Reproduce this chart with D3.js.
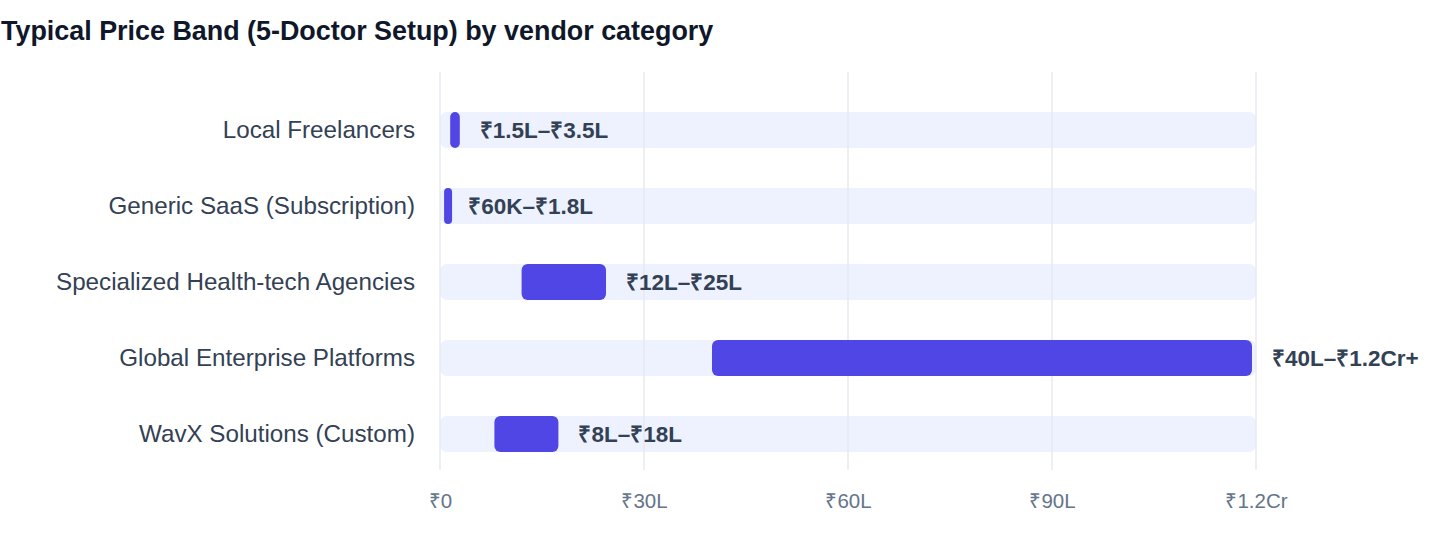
<!DOCTYPE html>
<html>
<head>
<meta charset="utf-8">
<script src="https://cdn.jsdelivr.net/npm/d3@7"></script>
<style>
  body { margin: 0; background: #fff; font-family: "Liberation Sans", Arial, Helvetica, sans-serif; }
</style>
</head>
<body>
<div id="wrapper"></div>
<script>
// vendor categories and their price bands, in lakh (₹L)
const categories = [
  'Local Freelancers',
  'Generic SaaS (Subscription)',
  'Specialized Health-tech Agencies',
  'Global Enterprise Platforms',
  'WavX Solutions (Custom)',
];
const lowValues = [1.5, 0.6, 12, 40, 8];
const highValues = [3.5, 1.8, 25, 120, 18];
const bandLabels = ['₹1.5L–₹3.5L', '₹60K–₹1.8L', '₹12L–₹25L', '₹40L–₹1.2Cr+', '₹8L–₹18L'];
const tickValues = [0, 30, 60, 90, 120];
const tickLabels = ['₹0', '₹30L', '₹60L', '₹90L', '₹1.2Cr'];
const axisMax = 120;

function drawRangeChart() {
  const dataset = categories.map((c, i) => ({
    category: c,
    low: lowValues[i],
    high: highValues[i],
    label: bandLabels[i],
  }));

  /* CHART DIMENSIONS */
  const dimensions = {
    width: 1440,
    height: 560,
    margin: { top: 72, right: 184, bottom: 90, left: 440 },
  };
  dimensions.boundedWidth = dimensions.width - dimensions.margin.left - dimensions.margin.right;
  dimensions.boundedHeight = dimensions.height - dimensions.margin.top - dimensions.margin.bottom;

  /* SCALES */
  const xScale = d3.scaleLinear()
    .domain([0, axisMax])
    .range([0, dimensions.boundedWidth]);

  const yScale = d3.scaleBand()
    .domain(categories)
    .range([20, 400])
    .paddingInner(0.526)
    .paddingOuter(0.263);

  const wrapper = d3.select('#wrapper')
    .append('svg')
    .attr('width', dimensions.width)
    .attr('height', dimensions.height);

  wrapper.append('text')
    .text('Typical Price Band (5-Doctor Setup) by vendor category')
    .attr('x', 1)
    .attr('y', 40)
    .attr('font-size', 26.9)
    .attr('font-weight', 700)
    .attr('fill', '#0f172a');

  const bounds = wrapper.append('g')
    .attr('transform', `translate(${dimensions.margin.left},${dimensions.margin.top})`);

  /* BACKGROUND TRACKS */
  bounds.append('g')
    .selectAll('rect')
    .data(dataset)
    .join('rect')
    .attr('x', 0)
    .attr('y', d => yScale(d.category))
    .attr('width', xScale(axisMax))
    .attr('height', yScale.bandwidth())
    .attr('rx', 7)
    .attr('fill', '#eef2ff');

  /* GRID */
  bounds.append('g')
    .selectAll('line')
    .data(tickValues)
    .join('line')
    .attr('x1', d => xScale(d))
    .attr('x2', d => xScale(d))
    .attr('y1', 0)
    .attr('y2', dimensions.boundedHeight)
    .attr('stroke', '#e2e8f0')
    .attr('stroke-width', 1.3);

  /* RANGE BARS */
  const barWidth = d => Math.max(8, xScale(d.high) - xScale(d.low) - 4);
  bounds.append('g')
    .selectAll('rect')
    .data(dataset)
    .join('rect')
    .attr('x', d => xScale(d.low))
    .attr('y', d => yScale(d.category))
    .attr('width', barWidth)
    .attr('height', yScale.bandwidth())
    .attr('rx', d => Math.min(6, barWidth(d) / 2))
    .attr('fill', '#4f46e5');

  bounds.append('g')
    .selectAll('text')
    .data(dataset)
    .join('text')
    .text(d => d.label)
    .attr('x', d => xScale(d.high) + 16)
    .attr('y', d => yScale(d.category) + yScale.bandwidth() / 2)
    .attr('dy', '0.35em')
    .attr('font-size', 22.5)
    .attr('font-weight', 700)
    .attr('fill', '#334155');

  /* CATEGORY LABELS */
  bounds.append('g')
    .selectAll('text')
    .data(dataset)
    .join('text')
    .text(d => d.category)
    .attr('x', -25)
    .attr('y', d => yScale(d.category) + yScale.bandwidth() / 2)
    .attr('dy', '0.35em')
    .attr('text-anchor', 'end')
    .attr('font-size', 24.2)
    .attr('fill', '#334155');

  /* X AXIS */
  const xAxis = d3.axisBottom(xScale)
    .tickValues(tickValues)
    .tickFormat((d, i) => tickLabels[i])
    .tickSize(0)
    .tickPadding(23);

  const xAxisGroup = bounds.append('g')
    .attr('transform', `translate(0,${dimensions.boundedHeight})`)
    .call(xAxis);
  xAxisGroup.select('.domain').remove();
  xAxisGroup.selectAll('text')
    .attr('font-size', 20.5)
    .attr('font-family', '"Liberation Sans", Arial, sans-serif')
    .attr('fill', '#64748b');
}

drawRangeChart();
</script>
</body>
</html>
